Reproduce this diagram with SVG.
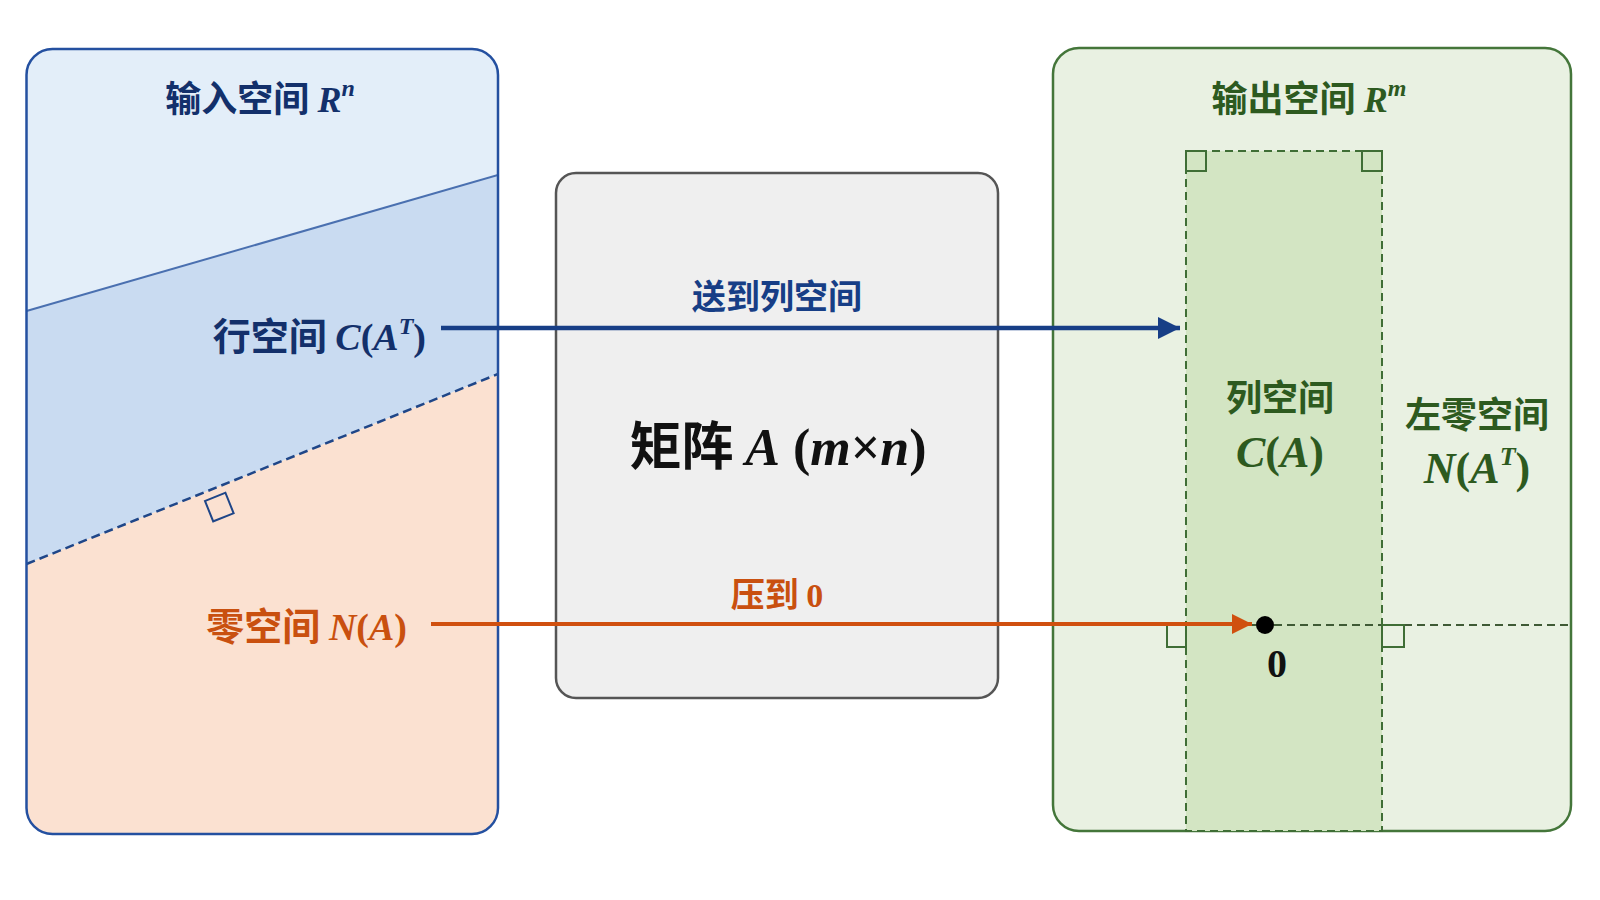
<svg xmlns="http://www.w3.org/2000/svg" width="1600" height="900" viewBox="0 0 1600 900">
<style>
.cjk{font-family:"Noto Sans CJK SC",sans-serif;font-weight:bold}
.m{font-family:"Liberation Serif","DejaVu Serif",serif;font-style:italic;font-weight:bold}
.u{font-family:"Liberation Serif",serif;font-weight:bold;font-style:normal}
.ra{fill:none;stroke-width:2}
</style>
<defs>
<clipPath id="lc"><rect x="26.5" y="49" width="471.5" height="785" rx="26"/></clipPath>
<marker id="ab" viewBox="0 0 10 10" refX="10" refY="5" markerWidth="5" markerHeight="5" markerUnits="strokeWidth" orient="auto"><path d="M0,0L10,5L0,10z" fill="#173e86"/></marker>
<marker id="ao" viewBox="0 0 10 10" refX="10" refY="5" markerWidth="5" markerHeight="5" markerUnits="strokeWidth" orient="auto"><path d="M0,0L10,5L0,10z" fill="#d0500f"/></marker>
</defs>
<rect width="1600" height="900" fill="#fff"/>
<g id="input-space">
<g clip-path="url(#lc)">
<rect x="26.5" y="49" width="471.5" height="785" fill="#e3eef9"/>
<polygon points="26.5,311 498,175 498,374 26.5,564" fill="#c9dbf1"/>
<polygon points="26.5,564 498,374 498,834 26.5,834" fill="#fbe1d1"/>
<line x1="26.5" y1="311" x2="498" y2="175" stroke="#4a70b0" stroke-width="2"/>
<line x1="26.5" y1="564" x2="498" y2="374" stroke="#1f4688" stroke-width="2.5" stroke-dasharray="9,5"/>
</g>
<rect x="26.5" y="49" width="471.5" height="785" rx="26" fill="none" stroke="#2450a0" stroke-width="2.5"/>
<g transform="translate(205,501) rotate(-21.9)"><rect x="0" y="0" width="22" height="22" class="ra" stroke="#1f4688"/></g>
<text x="260" y="112" text-anchor="middle" fill="#13306b" font-size="36"><tspan class="cjk">输入空间 </tspan><tspan class="m">R</tspan><tspan class="m" font-size="24" dy="-16">n</tspan></text>
<text x="426" y="350" text-anchor="end" fill="#13306b" font-size="38"><tspan class="cjk">行空间 </tspan><tspan class="m">C</tspan><tspan class="u">(</tspan><tspan class="m">A</tspan><tspan class="m" font-size="24" dy="-16">T</tspan><tspan class="u" dy="16">)</tspan></text>
<text x="407" y="640" text-anchor="end" fill="#c9500f" font-size="38"><tspan class="cjk">零空间 </tspan><tspan class="m">N</tspan><tspan class="u">(</tspan><tspan class="m">A</tspan><tspan class="u">)</tspan></text>
</g>
<g id="matrix">
<rect x="556" y="173" width="442" height="525" rx="20" fill="#efefef" stroke="#555" stroke-width="2.5"/>
<text x="778" y="465" text-anchor="middle" fill="#111" font-size="52"><tspan class="cjk">矩阵 </tspan><tspan class="m">A</tspan><tspan class="u"> (</tspan><tspan class="m">m</tspan><tspan class="u">×</tspan><tspan class="m">n</tspan><tspan class="u">)</tspan></text>
</g>
<g id="output-space">
<rect x="1053" y="48" width="518" height="783" rx="26" fill="#e9f1e2" stroke="#44763a" stroke-width="2.5"/>
<rect x="1186" y="151" width="196" height="680" fill="#d3e5c3" stroke="#3f6e35" stroke-width="2" stroke-dasharray="8,5"/>
<rect x="1186" y="151" width="20" height="20" class="ra" stroke="#3f6e35"/>
<rect x="1362" y="151" width="20" height="20" class="ra" stroke="#3f6e35"/>
<line x1="1053" y1="625" x2="1571" y2="625" stroke="#3f5a35" stroke-width="2" stroke-dasharray="8,5"/>
<rect x="1167" y="625" width="19" height="22" class="ra" stroke="#3f6e35"/>
<rect x="1382" y="625" width="22" height="22" class="ra" stroke="#3f6e35"/>
<text x="1309" y="112" text-anchor="middle" fill="#2d5a1f" font-size="36"><tspan class="cjk">输出空间 </tspan><tspan class="m">R</tspan><tspan class="m" font-size="24" dy="-16">m</tspan></text>
<text x="1280" y="411" text-anchor="middle" fill="#2d5a1f" font-size="36" class="cjk">列空间</text>
<text x="1280" y="467" text-anchor="middle" fill="#2d5a1f" font-size="44"><tspan class="m">C</tspan><tspan class="u">(</tspan><tspan class="m">A</tspan><tspan class="u">)</tspan></text>
<text x="1477" y="428" text-anchor="middle" fill="#2d5a1f" font-size="36" class="cjk">左零空间</text>
<text x="1477" y="483" text-anchor="middle" fill="#2d5a1f" font-size="44"><tspan class="m">N</tspan><tspan class="u">(</tspan><tspan class="m">A</tspan><tspan class="m" font-size="26" dy="-18">T</tspan><tspan class="u" dy="18">)</tspan></text>
<circle cx="1265" cy="625" r="9" fill="#000"/>
<text x="1277" y="677" text-anchor="middle" fill="#111" font-size="40" class="u">0</text>
</g>
<g id="connectors">
<line x1="441" y1="328" x2="1180" y2="328" stroke="#173e86" stroke-width="4.5" marker-end="url(#ab)"/>
<text x="777" y="309" text-anchor="middle" fill="#173e86" font-size="34" class="cjk">送到列空间</text>
<line x1="431" y1="624" x2="1252" y2="624" stroke="#d0500f" stroke-width="4" marker-end="url(#ao)"/>
<text x="777" y="607" text-anchor="middle" fill="#c9500f" font-size="34"><tspan class="cjk">压到 </tspan><tspan class="u">0</tspan></text>
</g>
</svg>
